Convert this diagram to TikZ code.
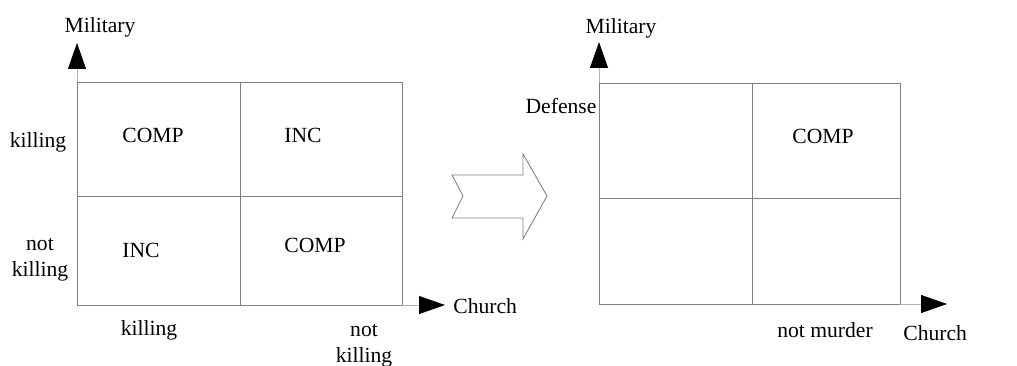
\documentclass[tikz,border=0pt]{standalone}
\usepackage{fontspec}
\setmainfont{Liberation Serif}
\usepackage{tikz}
\usetikzlibrary{arrows.meta}

\begin{document}
\begin{tikzpicture}[x=0.02cm,y=-0.02cm,
    cell/.style={draw=gray,line width=0.5pt},
    axis/.style={draw=gray!60,line width=0.5pt,-{Triangle[width=0.36cm,length=0.52cm,color=black]}},
    lbl/.style={inner sep=0pt,anchor=base,align=center,font=\fontsize{12.3}{14.5}\selectfont}]
  \useasboundingbox (0,0) rectangle (1017,365);
  % before
  \draw[cell] (77,82) rectangle (402,305);
  \draw[cell] (240,82) -- (240,305);
  \draw[cell] (77,196) -- (402,196);
  \coordinate (y1) at (77,82);
  \coordinate (x1) at (402,305);
  \coordinate (ytip1) at (77,43);
  \coordinate (xtip1) at (445,305);
  \draw[axis] (y1) -- (ytip1);
  \draw[axis] (x1) -- (xtip1);
  \node[lbl] (mil1) at (100,32) {Military};
  \node[lbl,anchor=base west] (ch1) at (453,313) {Church};
  \node[lbl] (mk) at (38,147) {killing};
  \node[lbl] (mnk) at (40,276) {not\\killing};
  \node[lbl] (ck) at (149,335) {killing};
  \node[lbl] (cnk) at (364,362) {not\\killing};
  \node[lbl] (tl) at (153,142) {COMP};
  \node[lbl] (tr) at (303,142) {INC};
  \node[lbl] (bl) at (141,257) {INC};
  \node[lbl] (br) at (315,252) {COMP};
  % transition
  \draw[cell] (452,175) -- (523,175) -- (523,154) -- (547,196) -- (523,239)
    -- (523,218) -- (452,218) -- (463,196) -- cycle;
  % after
  \draw[cell] (599,83) rectangle (900,304);
  \draw[cell] (752,83) -- (752,304);
  \draw[cell] (599,198) -- (900,198);
  \coordinate (y2) at (599,83);
  \coordinate (x2) at (900,304);
  \coordinate (ytip2) at (599,42);
  \coordinate (xtip2) at (947,304);
  \draw[axis] (y2) -- (ytip2);
  \draw[axis] (x2) -- (xtip2);
  \node[lbl] (mil2) at (621,33) {Military};
  \node[lbl,anchor=base west] (ch2) at (903,340) {Church};
  \node[lbl] (def) at (561,113) {Defense};
  \node[lbl] (tr2) at (823,143) {COMP};
  \node[lbl] (nm) at (825,337) {not murder};
\end{tikzpicture}
\end{document}
